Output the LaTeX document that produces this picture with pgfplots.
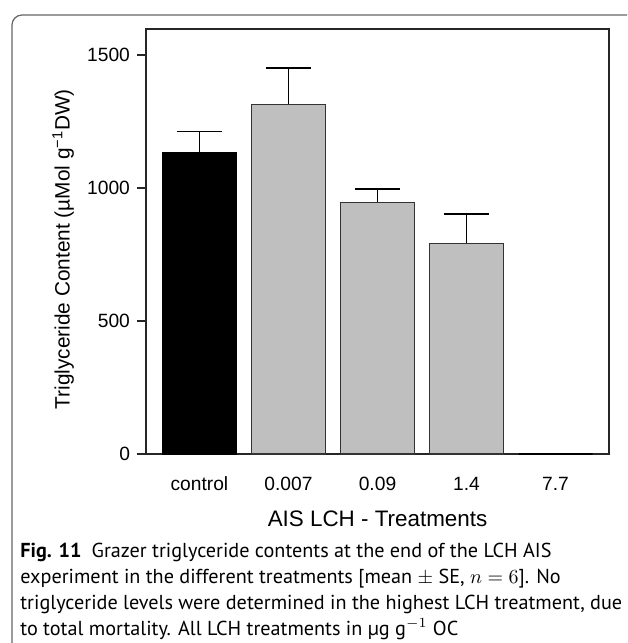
\documentclass[border=0pt]{standalone}
\usepackage{fontspec}
\setmainfont{Liberation Sans}
\newfontfamily\capfont{PT Sans}
\usepackage{pgfplots}
\pgfplotsset{compat=1.18}
\begin{document}
\begin{tikzpicture}
\useasboundingbox (0pt,0pt) rectangle (313.5pt,-321.5pt);
\draw[black!60, line width=0.6pt, rounded corners=5pt] (6pt,-321.5pt) -- (6pt,-7.5pt) -- (313.5pt,-7.5pt);
\begin{axis}[
  at={(73pt,-227pt)}, anchor=south west,
  width=231.5pt, height=212.5pt, scale only axis,
  xmin=-0.6, xmax=4.6, ymin=0, ymax=1598,
  axis line style={black!85, line width=0.7pt},
  ytick={0,500,1000,1500},
  xtick={0,1,2,3,4},
  xticklabels={control,0.007,0.09,1.4,7.7},
  ytick pos=left,
  tick align=outside, major tick length=4.5pt,
  ytick style={black!85, line width=0.6pt},
  xtick style={draw=none},
  ticklabel style={font=\fontsize{9.6}{11}\selectfont},
  /pgf/number format/assume math mode=true,
  /pgf/number format/1000 sep={},
  xticklabel style={anchor=base, yshift=-13.85pt},
  xlabel={AIS LCH - Treatments},
  ylabel={Triglyceride Content (µMol g\textsuperscript{−1}DW)},
  xlabel style={at={(axis description cs:0.5,0)}, anchor=base, yshift=-36pt, font=\fontsize{11.2}{13}\selectfont},
  ylabel style={at={(axis description cs:-0.179,0.482)}, anchor=center, font=\fontsize{10.4}{12}\selectfont},
  clip=false,
]
\addplot[ybar, bar width=37pt, bar shift=0pt, fill=black, draw=black, line width=0.6pt,
  error bars/.cd, y dir=plus, y explicit,
  error bar style={black, line width=0.8pt},
  error mark options={rotate=90, mark size=11.25pt, black, line width=0.8pt}]
  coordinates {(0,1135) +- (0,77)};
\addplot[ybar, bar width=37pt, bar shift=0pt, fill=black!25, draw=black!80, line width=0.6pt,
  error bars/.cd, y dir=plus, y explicit,
  error bar style={black, line width=0.8pt},
  error mark options={rotate=90, mark size=11.25pt, black, line width=0.8pt}]
  coordinates {(1,1315) +- (0,136) (2,947) +- (0,49) (3,793) +- (0,109)};
\addplot[ybar, bar width=37pt, bar shift=0pt, fill=black!25, draw=black, line width=0.6pt]
  coordinates {(4,0)};
\end{axis}
\begin{scope}[every node/.style={anchor=base west, inner sep=0pt, font=\capfont\fontsize{10.1}{13}\selectfont}]
\node at (10pt,-278.5pt) {\textbf{Fig. 11}\enspace Grazer triglyceride contents at the end of the LCH AIS};
\node at (10pt,-291.5pt) {experiment in the different treatments [mean $\pm$ SE, $n = 6$]. No};
\node at (10pt,-304.5pt) {triglyceride levels were determined in the highest LCH treatment, due};
\node at (10pt,-317.5pt) {to total mortality. All LCH treatments in µg g$^{-1}$ OC};
\end{scope}
\end{tikzpicture}
\end{document}
